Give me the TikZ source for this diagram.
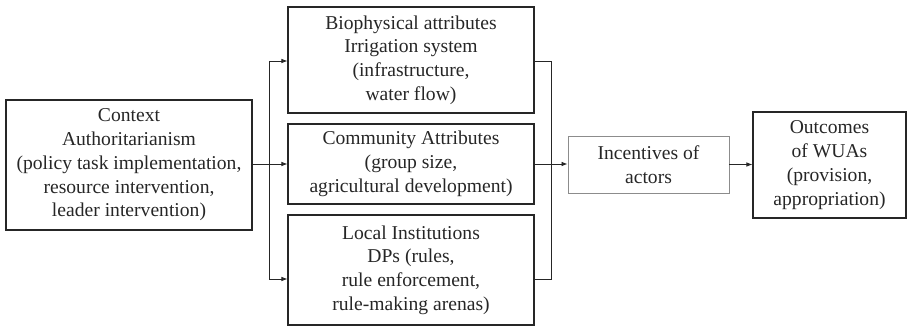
\documentclass[tikz,border=0pt]{standalone}
\usepackage{fontspec}
\setmainfont{Liberation Serif}
\usetikzlibrary{arrows.meta}
\begin{document}
\begin{tikzpicture}[x=0.75pt,y=-0.75pt,
  box/.style={draw=black!85,line width=0.9pt,inner sep=0pt,align=center,
    font=\fontsize{14.7}{17.8}\selectfont,text=black!85},
  gbox/.style={box,draw=black!45,line width=0.7pt},
  conn/.style={draw=black!85,line width=0.6pt},
  arr/.style={conn,-{Latex[length=4.5pt,width=3.5pt]}}]
\useasboundingbox (0,0) rectangle (907,328);
\node[box,minimum width={246*0.75pt},minimum height={130*0.75pt}] (ctx) at (129,165)
  {Context\\Authoritarianism\\(policy task implementation,\\resource intervention,\\leader intervention)};
\node[box,minimum width={246*0.75pt},minimum height={106*0.75pt}] (bio) at (411,60)
  {Biophysical attributes\\Irrigation system\\(infrastructure,\\water flow)};
\node[box,minimum width={246*0.75pt},minimum height={80*0.75pt}] (com) at (411,164)
  {Community Attributes\\(group size,\\agricultural development)};
\node[box,minimum width={246*0.75pt},minimum height={110*0.75pt}] (loc) at (411,270)
  {Local Institutions\\DPs (rules,\\rule enforcement,\\rule-making arenas)};
\node[gbox,minimum width={161*0.75pt},minimum height={57*0.75pt}] (inc) at (648.5,164.5)
  {Incentives of\\actors};
\node[box,minimum width={153*0.75pt},minimum height={106*0.75pt}] (out) at (829.5,165)
  {Outcomes\\of WUAs\\(provision,\\appropriation)};
% left branching
\coordinate (s) at (269,164);
\coordinate (s1) at (269,61);
\coordinate (s3) at (269,279);
\draw[arr] (ctx.east |- s) -- (com.west |- s);
\draw[conn] (s1) -- (s3);
\draw[arr] (s1) -- (bio.west |- s1);
\draw[arr] (s3) -- (loc.west |- s3);
% right merging
\coordinate (m) at (551,164);
\coordinate (m1) at (551,61);
\coordinate (m3) at (551,279);
\draw[conn] (bio.east |- m1) -- (m1) -- (m3) -- (loc.east |- m3);
\draw[arr] (com.east |- m) -- (inc.west |- m);
\draw[arr] (inc.east) -- (out.west |- inc.east);
\end{tikzpicture}
\end{document}
